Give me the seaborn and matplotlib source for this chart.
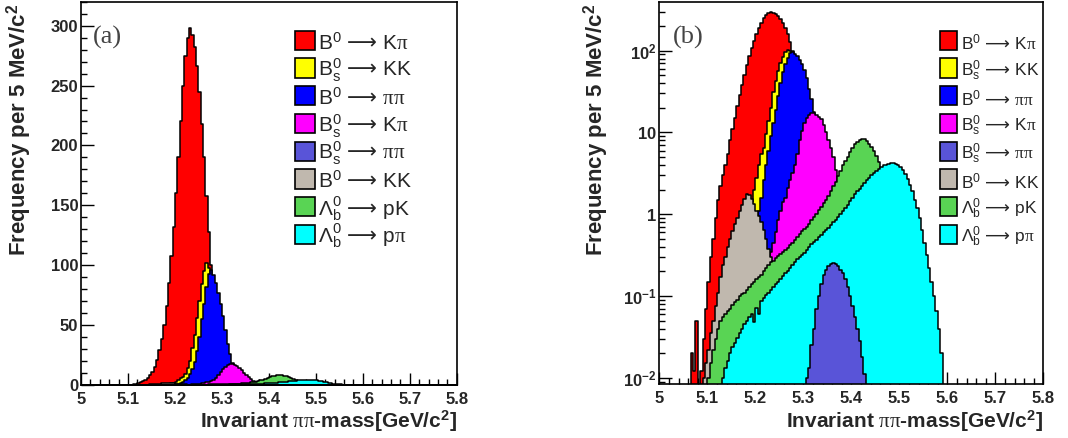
import numpy as np
import pandas as pd
import matplotlib
matplotlib.use("Agg")
import matplotlib.pyplot as plt
from matplotlib.patches import Rectangle
from matplotlib.ticker import MultipleLocator, LogLocator, NullFormatter
import seaborn as sns

# ---------------- data (bin contents per 5 MeV bin) ----------------
BIN_WIDTH = 0.005
X_MIN, X_MAX = 5.0, 5.8

# lower edge of first listed bin, then bin contents
b0_kpi_start = 5.065
b0_kpi = [0.02, 0.012, 0.05, 0.0, 0.012, 0.03, 0.07, 0.15, 0.3, 0.5, 0.9, 1.5, 2.2, 3.0,
          4.0, 5.5, 8, 11, 15, 21, 29, 38, 50, 66, 85, 108, 132, 160, 190, 220, 250,
          275, 290, 298, 292, 282, 266, 245, 218, 190, 158, 128, 100, 76, 56, 40, 28,
          19, 12, 8, 5, 3, 1.8, 1.1, 0.6, 0.35, 0.2, 0.1, 0.05, 0.02]

bs_kk_start = 5.165
bs_kk = [0.3, 0.45, 0.6, 0.8, 1.0, 1.4, 2.0, 2.8, 4.0, 5.5, 6.5, 9.5, 14, 20, 31, 42, 56,
         70, 84, 95, 102, 98, 88, 76, 62, 48, 36, 26, 18, 12, 8, 5, 3, 2, 1.2, 0.7, 0.4]

b0_pipi_start = 5.180
b0_pipi = [0.05, 0.1, 0.2, 0.4, 0.7, 1.1, 1.6, 2.6, 4, 6, 9, 13, 19, 28, 40, 55, 68, 82,
           93, 96, 92, 85, 77, 68, 58, 46, 34, 26, 18, 12, 8, 5, 3.2, 2, 1.2, 0.7, 0.4,
           0.22, 0.12, 0.06, 0.03]

bs_kpi_start = 5.225
bs_kpi = [0.2, 0.35, 0.45, 0.6, 0.85, 1.1, 1.4, 1.6, 2.1, 2.6, 3.2, 4.0, 5.5, 8.0, 10.5,
          13, 15, 16.5, 17.5, 17.5, 16.5, 15.5, 14.5, 12.5, 10, 8, 6.5, 5, 3.5, 2.4, 1.5,
          0.9, 0.5, 0.3, 0.15, 0.08, 0.04]

bs_pipi_start = 5.305
bs_pipi = [0.01, 0.013, 0.025, 0.04, 0.07, 0.1, 0.14, 0.18, 0.21, 0.23, 0.245, 0.25,
           0.245, 0.23, 0.21, 0.19, 0.16, 0.13, 0.10, 0.075, 0.055, 0.04, 0.028, 0.018,
           0.011]

b0_kk_start = 5.090
b0_kk = [0.01, 0.015, 0.022, 0.035, 0.05, 0.075, 0.11, 0.17, 0.24, 0.3, 0.4, 0.5, 0.62,
         0.75, 0.9, 1.1, 1.3, 1.55, 1.75, 1.7, 1.55, 1.35, 1.1, 0.95, 0.8, 0.65, 0.5,
         0.38, 0.3, 0.22, 0.15, 0.1, 0.06, 0.04, 0.02]

lb_pk_start = 5.100
lb_pk = [0.01, 0.015, 0.022, 0.03, 0.04, 0.05, 0.055, 0.06, 0.065, 0.07, 0.077, 0.085,
         0.09, 0.1, 0.105, 0.11, 0.12, 0.13, 0.14, 0.15, 0.16, 0.17, 0.18, 0.2, 0.22,
         0.24, 0.26, 0.27, 0.29, 0.31, 0.33, 0.35, 0.37, 0.39, 0.42, 0.45, 0.48, 0.52,
         0.57, 0.62, 0.66, 0.69, 0.76, 0.84, 0.92, 1.02, 1.12, 1.23, 1.36, 1.5, 1.65,
         1.9, 2.2, 2.5, 2.9, 3.4, 4.0, 4.5, 5.0, 5.8, 6.5, 7.2, 7.7, 8.1, 8.3, 8.3, 7.9,
         7.3, 6.6, 6.0, 5.2, 4.4, 3.6, 2.8, 2.0, 1.4, 0.9, 0.55, 0.3, 0.15, 0.07, 0.03]

lb_ppi_start = 5.130
lb_ppi = [0.01, 0.013, 0.016, 0.02, 0.024, 0.027, 0.031, 0.035, 0.04, 0.045, 0.05, 0.055,
          0.06, 0.048, 0.072, 0.06, 0.087, 0.095, 0.103, 0.11, 0.12, 0.13, 0.14, 0.15,
          0.16, 0.175, 0.19, 0.205, 0.22, 0.24, 0.26, 0.28, 0.30, 0.32, 0.34, 0.37, 0.40,
          0.43, 0.46, 0.49, 0.52, 0.56, 0.60, 0.64, 0.68, 0.74, 0.80, 0.86, 0.93, 1.0,
          1.1, 1.2, 1.3, 1.45, 1.6, 1.75, 1.9, 2.05, 2.2, 2.4, 2.6, 2.8, 3.0, 3.2, 3.4,
          3.6, 3.8, 3.95, 4.05, 4.15, 4.2, 4.2, 4.15, 4.0, 3.8, 3.5, 3.1, 2.7, 2.3, 1.9,
          1.5, 1.2, 0.9, 0.65, 0.45, 0.32, 0.22, 0.15, 0.1, 0.065, 0.04, 0.02]

ARROW = r"\,\mathcal{\longrightarrow}\,"
legend_labels = [
    r"$\mathrm{B^0}" + ARROW + r"\mathrm{K}\pi$",
    r"$\mathrm{B_s^0}" + ARROW + r"\mathrm{KK}$",
    r"$\mathrm{B^0}" + ARROW + r"\pi\pi$",
    r"$\mathrm{B_s^0}" + ARROW + r"\mathrm{K}\pi$",
    r"$\mathrm{B_s^0}" + ARROW + r"\pi\pi$",
    r"$\mathrm{B^0}" + ARROW + r"\mathrm{KK}$",
    r"$\Lambda_\mathrm{b}^0" + ARROW + r"\mathrm{pK}$",
    r"$\Lambda_\mathrm{b}^0" + ARROW + r"\mathrm{p}\pi$",
]

# ---------------- styles ----------------
C_RED, C_YEL, C_BLU, C_MAG = "#ff0000", "#ffff00", "#0000ff", "#ff00ff"
C_SLA, C_TAN, C_GRN, C_CYA = "#5954d8", "#c0b8ae", "#59d454", "#00ffff"

series = {
    "b0_kpi": (b0_kpi_start, b0_kpi, C_RED),
    "bs_kk": (bs_kk_start, bs_kk, C_YEL),
    "b0_pipi": (b0_pipi_start, b0_pipi, C_BLU),
    "bs_kpi": (bs_kpi_start, bs_kpi, C_MAG),
    "bs_pipi": (bs_pipi_start, bs_pipi, C_SLA),
    "b0_kk": (b0_kk_start, b0_kk, C_TAN),
    "lb_pk": (lb_pk_start, lb_pk, C_GRN),
    "lb_ppi": (lb_ppi_start, lb_ppi, C_CYA),
}
legend_order = ["b0_kpi", "bs_kk", "b0_pipi", "bs_kpi", "bs_pipi", "b0_kk", "lb_pk", "lb_ppi"]
draw_order = ["b0_kpi", "bs_kk", "b0_pipi", "bs_kpi", "b0_kk", "lb_pk", "lb_ppi", "bs_pipi"]

sns.set_style("ticks")
plt.rcParams["font.family"] = ["Liberation Sans", "DejaVu Sans"]
plt.rcParams["mathtext.fontset"] = "custom"
plt.rcParams["mathtext.rm"] = "Liberation Sans"
plt.rcParams["mathtext.sf"] = "Liberation Sans"
plt.rcParams["mathtext.bf"] = "Liberation Sans:bold"
plt.rcParams["mathtext.it"] = "Liberation Serif"
plt.rcParams["mathtext.cal"] = "DejaVu Sans"

W, H = 1068, 438
fig = plt.figure(figsize=(W / 100, H / 100), dpi=100)


def fx(px):
    return px / W


def fy(py):
    return 1 - py / H


ax_a = fig.add_axes([fx(81), fy(385), 375.7 / W, 383.3 / H])
ax_b = fig.add_axes([fx(659.3), fy(384), 384 / W, 382.3 / H])


def draw_hists(ax):
    for key in draw_order:
        start, vals, col = series[key]
        centers = start + BIN_WIDTH * (np.arange(len(vals)) + 0.5)
        df = pd.DataFrame({"mass": centers, "count": np.asarray(vals, dtype=float)})
        sns.histplot(data=df, x="mass", weights="count", binwidth=BIN_WIDTH,
                     binrange=(X_MIN, X_MAX), element="step", fill=True,
                     color=col, alpha=1, edgecolor="black", linewidth=1.1, ax=ax)


draw_hists(ax_a)
draw_hists(ax_b)
ax_b.set_yscale("log")

xt = np.round(np.arange(5.0, 5.8001, 0.1), 1)
xtl = ["5"] + [f"{v:.1f}" for v in xt[1:]]
for ax in (ax_a, ax_b):
    ax.set_xlim(X_MIN, X_MAX)
    ax.set_xticks(xt, xtl, fontweight="bold", fontsize=12)
    ax.xaxis.set_minor_locator(MultipleLocator(0.02))
    ax.set_xlabel("")
    ax.set_ylabel("")
    ax.tick_params(which="both", direction="in", top=False, right=False, width=1,
                   color="black")
    ax.tick_params(which="major", length=9)
    ax.tick_params(which="minor", length=4.5)
    ax.tick_params(axis="x", pad=5)
    ax.tick_params(axis="y", pad=2)
    for sp in ax.spines.values():
        sp.set_visible(True)
        sp.set_linewidth(1.2)
        sp.set_color("black")

ax_a.set_ylim(0, 320)
ax_a.set_yticks(np.arange(0, 301, 50), [str(v) for v in range(0, 301, 50)],
                fontweight="bold", fontsize=12)
ax_a.yaxis.set_minor_locator(MultipleLocator(10))

ax_b.set_ylim(0.0084, 397)
ax_b.set_yticks([0.01, 0.1, 1, 10, 100],
                [r"$\mathbf{10^{-2}}$", r"$\mathbf{10^{-1}}$", r"$\mathbf{1}$",
                 r"$\mathbf{10}$", r"$\mathbf{10^{2}}$"], fontsize=12)
ax_b.yaxis.set_minor_locator(LogLocator(base=10, subs=np.arange(2, 10)))
ax_b.yaxis.set_minor_formatter(NullFormatter())

# axis titles
ylab = r"Frequency per 5 MeV/c$^{\mathbf{2}}$"
xlab = r"Invariant $\pi\pi$-mass[GeV/c$^{\mathbf{2}}$]"
for px in (19, 596):
    fig.text(fx(px), fy(3), ylab, rotation=90, ha="center", va="top",
             fontsize=16, fontweight="bold")
for px in (456.7, 1043.3):
    fig.text(fx(px), fy(421.7), xlab, ha="right", va="center",
             fontsize=15, fontweight="bold")

# panel tags
fig.text(fx(93), fy(37), "(a)", family="Liberation Serif", fontsize=19,
         color="#444444", va="center", ha="left")
fig.text(fx(673), fy(37), "(b)", family="Liberation Serif", fontsize=19,
         color="#444444", va="center", ha="left")

# legends
for (sq_x, sq_w, txt_x, fs) in ((295, 20, 318, 15), (940, 17, 960.7, 12.5)):
    for k, key in enumerate(legend_order):
        col = series[key][2]
        top = 30.7 + 27.7 * k
        fig.add_artist(Rectangle((fx(sq_x), fy(top + 19.3)), sq_w / W, 19.3 / H,
                                 transform=fig.transFigure, facecolor=col,
                                 edgecolor="black", linewidth=1.2))
        fig.text(fx(txt_x), fy(top + 12), legend_labels[k], fontsize=fs,
                 ha="left", va="center")

fig.savefig("out.png", dpi=100)
